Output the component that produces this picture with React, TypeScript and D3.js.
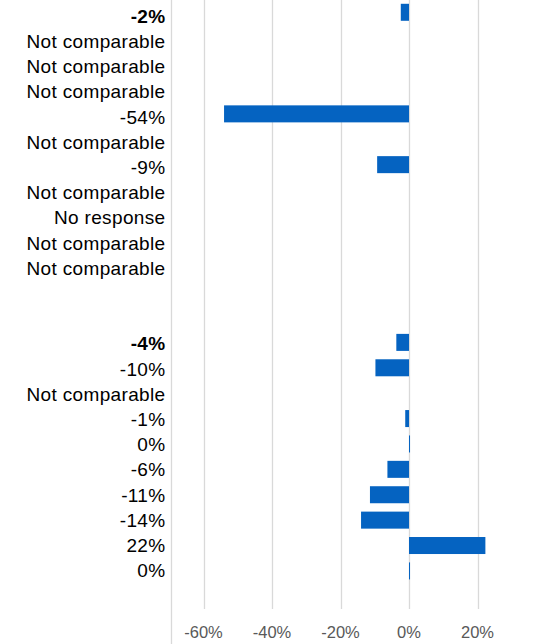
import React from "react";
import * as d3 from "d3";

const labels: string[] = [
  "-2%", "Not comparable", "Not comparable", "Not comparable", "-54%",
  "Not comparable", "-9%", "Not comparable", "No response", "Not comparable",
  "Not comparable", "", "", "-4%", "-10%", "Not comparable", "-1%", "0%",
  "-6%", "-11%", "-14%", "22%", "0%", "",
];
const values: (number | null)[] = [
  -2.4, null, null, null, -54, null, -9.3, null, null, null, null, null, null,
  -3.7, -9.8, null, -1.1, 0.3, -6.3, -11.4, -14, 22.3, 0.3, null,
];
const boldRows: number[] = [0, 13];
const ticks: number[] = [-60, -40, -20, 0, 20];

const W = 537;
const H = 644;

export default function App() {
  const x = d3.scaleLinear().domain([-60, 20]).range([203.5, 477.5]);
  const y = d3
    .scaleBand<number>()
    .domain(d3.range(labels.length))
    .range([-0.4, 609])
    .paddingInner(0.33)
    .paddingOuter(0.165);
  const bw = y.bandwidth();
  const yl = d3
    .scaleBand<number>()
    .domain(d3.range(labels.length))
    .range([0.1, 0.1 + labels.length * 25.21]);
  const font = "'Liberation Sans', Arial, sans-serif";
  return (
    <div style={{ position: "fixed", left: 0, top: 0 }}>
      <svg width={W} height={H} style={{ display: "block", background: "#fff" }}>
        {ticks.map((t) => (
          <line
            key={"g" + t}
            x1={Math.round(x(t)) + 0.5}
            x2={Math.round(x(t)) + 0.5}
            y1={0}
            y2={609}
            stroke="#d9d9d9"
            strokeWidth={1.3}
          />
        ))}
        <line x1={171.5} x2={171.5} y1={0} y2={H} stroke="#d9d9d9" strokeWidth={1.3} />
        {values.map((v, i) =>
          v === null ? null : (
            <rect
              key={"b" + i}
              x={Math.min(x(0), x(v))}
              width={Math.abs(x(v) - x(0))}
              y={y(i)!}
              height={bw}
              fill="#0563C1"
            />
          )
        )}
        {labels.map((l, i) => (
          <text
            key={"l" + i}
            x={165.5}
            y={yl(i)! + yl.bandwidth() / 2 + 10}
            textAnchor="end"
            fontFamily={font}
            fontSize={19}
            letterSpacing={0.35}
            fontWeight={boldRows.includes(i) ? "bold" : "normal"}
            fill="#000"
          >
            {l}
          </text>
        ))}
        {ticks.map((t) => (
          <text
            key={"t" + t}
            x={x(t)}
            y={637.5}
            textAnchor="middle"
            fontFamily={font}
            fontSize={16.5}
            fill="#595959"
          >
            {t + "%"}
          </text>
        ))}
      </svg>
    </div>
  );
}
